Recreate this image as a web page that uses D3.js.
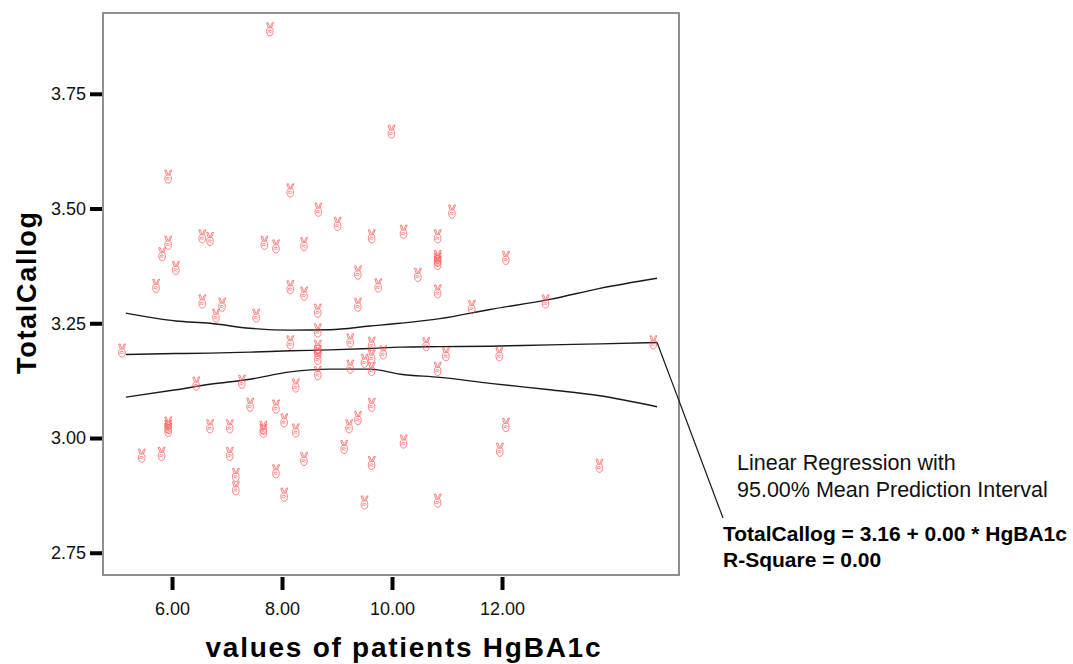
<!DOCTYPE html>
<html>
<head>
<meta charset="utf-8">
<script src="https://cdn.jsdelivr.net/npm/d3@7"></script>
<style>
  body { margin: 0; background: #fff; }
  text { font-family: "Liberation Sans", Arial, sans-serif; }
</style>
</head>
<body>
<div id="chart"></div>
<script>
// HgBA1c (x) vs TotalCallog (y)
const hgba1c = [7.78, 9.99, 5.93, 8.15, 8.66, 11.09, 9.01, 9.63, 5.93, 6.55,
    6.69, 7.68, 7.89, 8.40, 10.21, 10.83, 5.82, 10.83, 10.83, 10.83,
    12.07, 6.07, 9.38, 10.47, 9.75, 5.71, 8.15, 10.83, 8.40, 6.55,
    6.91, 9.38, 12.79, 11.45, 6.80, 7.53, 8.65, 8.65, 8.15, 9.24,
    9.63, 10.62, 14.75, 8.65, 8.65, 5.09, 9.84, 10.98, 11.95, 8.65,
    9.63, 9.50, 9.24, 9.63, 10.83, 8.65, 6.44, 7.27, 8.25, 7.42,
    7.89, 9.63, 9.38, 8.04, 12.07, 5.93, 5.93, 5.93, 6.69, 7.05,
    7.66, 7.66, 8.25, 9.22, 10.21, 9.13, 11.96, 5.45, 5.81, 7.05,
    8.40, 9.63, 13.77, 7.89, 7.16, 7.16, 8.04, 9.50, 10.83];
const totalCallog = [3.890, 3.667, 3.569, 3.539, 3.497, 3.493, 3.466, 3.439, 3.425, 3.439,
    3.433, 3.425, 3.417, 3.422, 3.449, 3.439, 3.400, 3.394, 3.388, 3.381,
    3.392, 3.370, 3.360, 3.355, 3.332, 3.331, 3.328, 3.319, 3.314, 3.297,
    3.290, 3.290, 3.297, 3.285, 3.266, 3.266, 3.277, 3.234, 3.208, 3.212,
    3.205, 3.204, 3.208, 3.198, 3.187, 3.190, 3.186, 3.182, 3.182, 3.174,
    3.177, 3.168, 3.155, 3.150, 3.150, 3.141, 3.118, 3.122, 3.114, 3.072,
    3.068, 3.072, 3.043, 3.038, 3.028, 3.031, 3.024, 3.017, 3.025, 3.025,
    3.022, 3.015, 3.016, 3.025, 2.992, 2.980, 2.974, 2.961, 2.965, 2.965,
    2.954, 2.945, 2.939, 2.927, 2.919, 2.890, 2.876, 2.859, 2.863];

// fit line and 95% mean prediction band
const fitX = [5.16, 6.07, 6.69, 7.42, 8.15, 8.87, 9.60, 10.15, 10.87, 11.78, 12.87, 13.78, 14.82];
const fitY = [3.182, 3.184, 3.185, 3.187, 3.190, 3.192, 3.195, 3.198, 3.199, 3.200, 3.203, 3.205, 3.208];
const upperY = [3.272, 3.255, 3.250, 3.239, 3.235, 3.236, 3.244, 3.250, 3.260, 3.280, 3.302, 3.326, 3.348];
const lowerY = [3.089, 3.105, 3.117, 3.128, 3.144, 3.150, 3.150, 3.139, 3.132, 3.119, 3.105, 3.092, 3.068];

const xTicks = [6, 8, 10, 12];
const yTicks = [2.75, 3.00, 3.25, 3.50, 3.75];

const legendLines = ['Linear Regression with', '95.00% Mean Prediction Interval'];
const equationLines = ['TotalCallog = 3.16 + 0.00 * HgBA1c', 'R-Square = 0.00'];

// victory-hand marker, outline drawn around (0,0)
const handPath = 'M-3.4,-6.6 L-1.9,-6.9 L-0.3,-2.4 ' +
    'M-3.4,-6.6 L-1.8,-1.9 ' +
    'M3.6,-6.9 L2.0,-6.6 L0.4,-2.4 ' +
    'M3.6,-6.9 L1.6,-1.9 ' +
    'M-2.2,-1.6 L2.4,-1.9 ' +
    'M-2.6,-1.2 C-4.2,1.2 -3.2,6.4 0,6.4 C3.2,6.4 3.9,2.2 2.6,-1.4 ' +
    'M-2.2,1.2 C-0.8,0.2 1.2,0.4 1.8,1.8 ' +
    'M-2.4,2.8 C-1.2,2.0 0.6,2.2 1.2,3.4';

const width = 1073;
const height = 664;
const margins = { top: 13, bottom: 89, left: 103, right: 394 };
const chartWidth = width - (margins.left + margins.right);
const chartHeight = height - (margins.top + margins.bottom);

const svg = d3.select('#chart')
    .append('svg')
    .attr('width', width)
    .attr('height', height);

const chart = svg.append('g')
    .attr('transform', `translate(${margins.left}, ${margins.top})`);

const xScale = d3.scaleLinear()
    .domain([4.745, 15.218])
    .range([0, chartWidth]);

const yScale = d3.scaleLinear()
    .domain([2.7015, 3.926])
    .range([chartHeight, 0]);

// frame
chart.append('rect')
    .attr('width', chartWidth)
    .attr('height', chartHeight)
    .attr('fill', 'none')
    .attr('stroke', '#8f8f8f')
    .attr('stroke-width', 2);

// axes: thick black ticks outside the frame, no domain line
const yAxis = d3.axisLeft(yScale)
    .tickValues(yTicks)
    .tickFormat(d3.format('.2f'))
    .tickSize(12)
    .tickPadding(4);

const xAxis = d3.axisBottom(xScale)
    .tickValues(xTicks)
    .tickFormat(d3.format('.2f'))
    .tickSize(13)
    .tickPadding(12);

const gy = chart.append('g')
    .attr('transform', 'translate(-1, 0)')
    .call(yAxis);

const gx = chart.append('g')
    .attr('transform', `translate(0, ${chartHeight + 2})`)
    .call(xAxis);

[gx, gy].forEach(g => {
    g.select('.domain').remove();
    g.selectAll('.tick line').attr('stroke', '#000').attr('stroke-width', 4);
    g.selectAll('.tick text')
        .attr('fill', '#111')
        .style('font-size', '18px')
        .style('font-family', '"Liberation Sans", Arial, sans-serif');
});

// band + fit
const line = d3.line()
    .x(d => xScale(d[0]))
    .y(d => yScale(d[1]))
    .curve(d3.curveMonotoneX);

[upperY, fitY, lowerY].forEach(series => {
    chart.append('path')
        .datum(fitX.map((x, i) => [x, series[i]]))
        .attr('d', line)
        .attr('fill', 'none')
        .attr('stroke', '#1a1a1a')
        .attr('stroke-width', 1.4);
});

// points: SPSS victory-hand markers
chart.append('g')
    .selectAll('path')
    .data(hgba1c.map((x, i) => [x, totalCallog[i]]))
    .enter()
    .append('path')
    .attr('transform', d => `translate(${xScale(d[0])}, ${yScale(d[1])})`)
    .attr('d', handPath)
    .attr('fill', 'none')
    .attr('stroke', '#ff5050')
    .attr('stroke-opacity', 0.7)
    .attr('stroke-width', 1);

// leader from the end of the fit line to the label
const lastIdx = fitX.length - 1;
chart.append('line')
    .attr('x1', xScale(fitX[lastIdx]))
    .attr('y1', yScale(fitY[lastIdx]))
    .attr('x2', 723 - margins.left)
    .attr('y2', 518 - margins.top)
    .attr('stroke', '#1a1a1a')
    .attr('stroke-width', 1.2);

// legend text
svg.append('g')
    .selectAll('text')
    .data(legendLines)
    .enter()
    .append('text')
    .attr('x', 737)
    .attr('y', (d, i) => 470 + i * 27)
    .attr('fill', '#111')
    .style('font-size', '21.5px')
    .text(d => d);

svg.append('g')
    .selectAll('text')
    .data(equationLines)
    .enter()
    .append('text')
    .attr('x', 723)
    .attr('y', (d, i) => 541 + i * 26)
    .attr('fill', '#000')
    .style('font-size', '21px')
    .style('font-weight', 'bold')
    .text(d => d);

// axis titles
svg.append('text')
    .attr('x', 403)
    .attr('y', 657)
    .attr('text-anchor', 'middle')
    .attr('textLength', 395)
    .style('font-size', '28px')
    .style('font-weight', 'bold')
    .text('values of patients HgBA1c');

svg.append('text')
    .attr('transform', 'translate(36, 293) rotate(-90)')
    .attr('text-anchor', 'middle')
    .attr('textLength', 162)
    .style('font-size', '27px')
    .style('font-weight', 'bold')
    .text('TotalCallog');
</script>
</body>
</html>
